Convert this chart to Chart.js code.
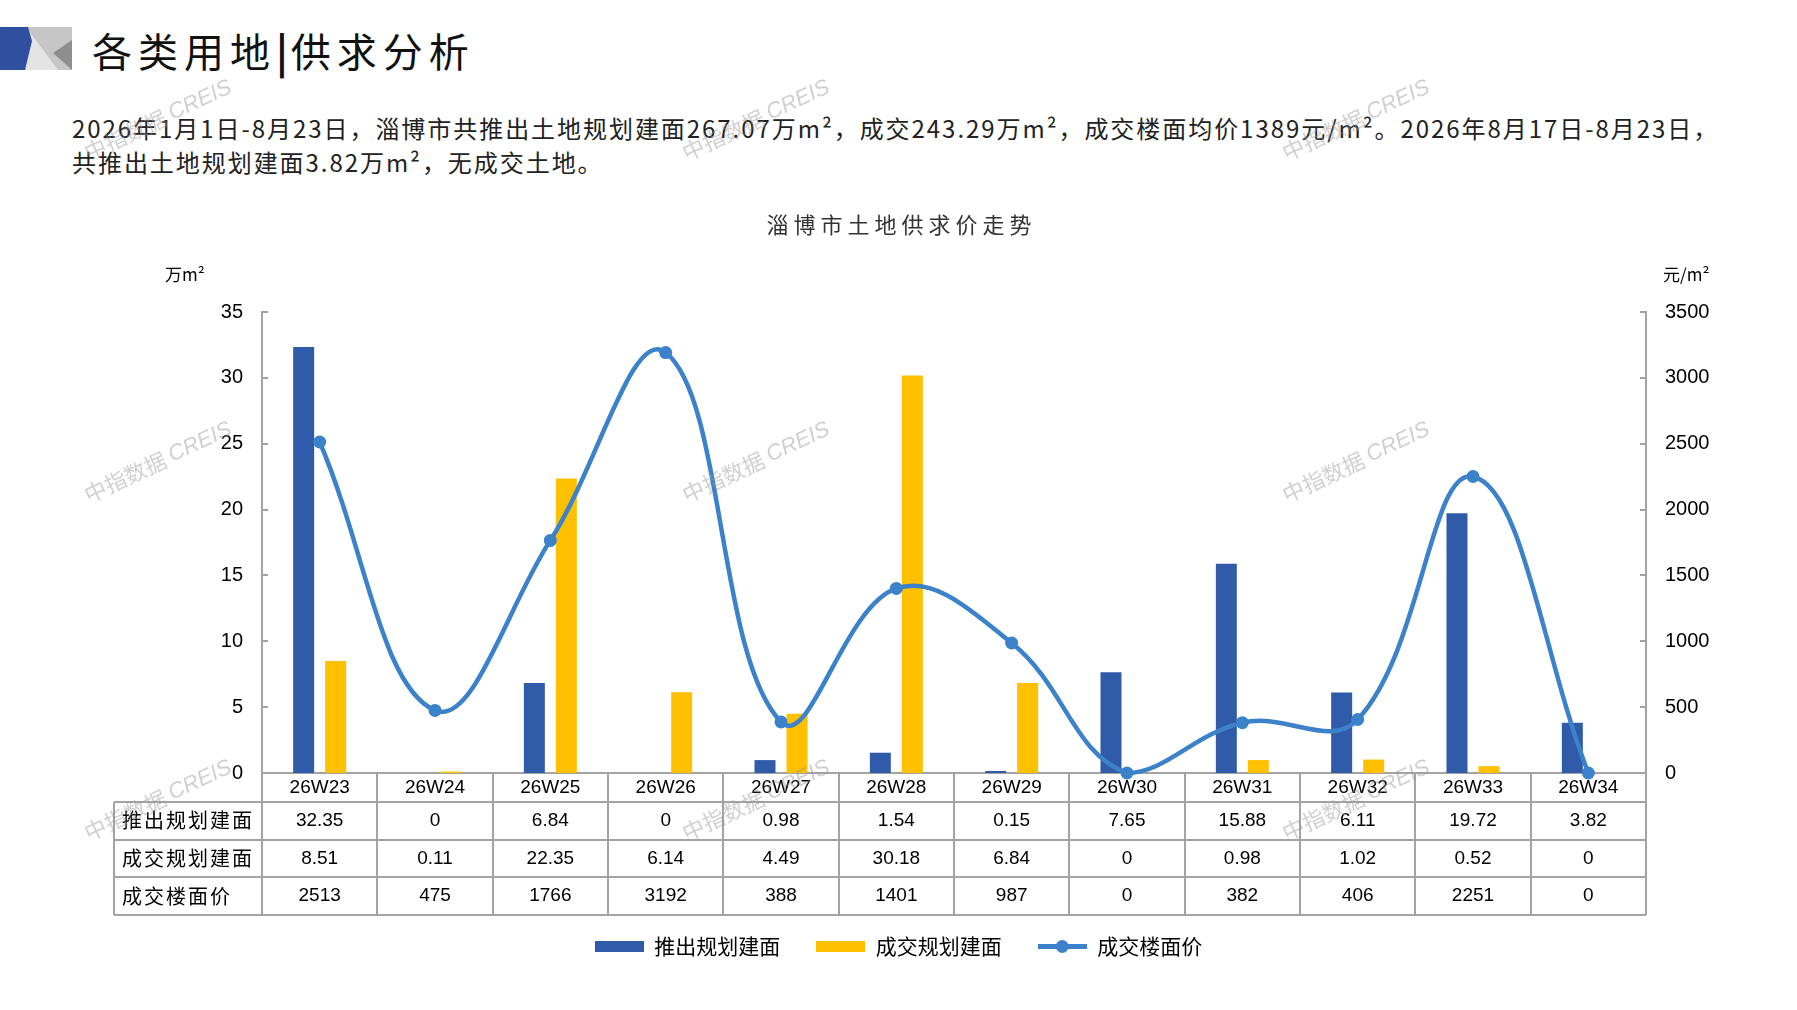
<!DOCTYPE html>
<html lang="zh-CN">
<head>
<meta charset="utf-8">
<title>各类用地|供求分析</title>
<script src="https://cdn.jsdelivr.net/npm/chart.js@4.4.1/dist/chart.umd.min.js"></script>
<style>
html, body { margin: 0; padding: 0; background: #fff; }
#page { position: relative; width: 1797px; height: 1010px; overflow: hidden; font-family: "Noto Sans CJK SC", sans-serif; }
#logo { position: absolute; left: 0; top: 27px; }
#title { position: absolute; left: 92px; top: 27px; font-size: 40px; line-height: 46px; letter-spacing: 6px; color: #111; white-space: nowrap; }
#title .sep { font-weight: bold; letter-spacing: 3px; }
#desc { position: absolute; left: 72px; top: 111px; font-size: 24px; line-height: 34px; letter-spacing: 1.95px; color: #222; white-space: nowrap; }
#chart { position: absolute; left: 0; top: 0; }
</style>
</head>
<body>
<div id="page">
  <svg id="logo" width="72" height="43">
    <rect x="24" y="0" width="48" height="43" fill="#c6c6c6"/>
    <polygon points="26,0 58,43 26,43" fill="#e4e4e4"/>
    <polygon points="53,26 72,13 72,43" fill="#8e8e8e"/>
    <polygon points="0,0 28,0 32,14 25,43 0,43" fill="#2f4f9f"/>
  </svg>
  <div id="title">各类用地<span class="sep">|</span>供求分析</div>
  <div id="desc">2026年1月1日-8月23日，淄博市共推出土地规划建面267.07万m²，成交243.29万m²，成交楼面均价1389元/m²。2026年8月17日-8月23日，<br>共推出土地规划建面3.82万m²，无成交土地。</div>
  <canvas id="chart" width="1797" height="1010"></canvas>
</div>
<script>
// 数据
var weeks = ['26W23', '26W24', '26W25', '26W26', '26W27', '26W28', '26W29', '26W30', '26W31', '26W32', '26W33', '26W34'];
var pushedArea = [32.35, 0, 6.84, 0, 0.98, 1.54, 0.15, 7.65, 15.88, 6.11, 19.72, 3.82];
var dealArea = [8.51, 0.11, 22.35, 6.14, 4.49, 30.18, 6.84, 0, 0.98, 1.02, 0.52, 0];
var dealPrice = [2513, 475, 1766, 3192, 388, 1401, 987, 0, 382, 406, 2251, 0];
var seriesNames = ['推出规划建面', '成交规划建面', '成交楼面价'];
var areaTicks = [0, 5, 10, 15, 20, 25, 30, 35];
var priceTicks = [0, 500, 1000, 1500, 2000, 2500, 3000, 3500];
var chartTitle = '淄博市土地供求价走势';

var BLUE = '#2f5ba9', YELLOW = '#ffc000', LINE = '#3b82cb', GRID = '#a3a3a3';
var CJK = '"Noto Sans CJK SC"', NUM = '"Liberation Sans", Arial, sans-serif';

// 图例色块
function swatch(color, isLine) {
    var c = document.createElement('canvas');
    c.width = 49; c.height = 15;
    var g = c.getContext('2d');
    g.fillStyle = color;
    if (isLine) {
        g.strokeStyle = color;
        g.lineWidth = 5;
        g.beginPath(); g.moveTo(0, 7.5); g.lineTo(49, 7.5); g.stroke();
        g.beginPath(); g.arc(24.5, 7.5, 6.5, 0, Math.PI * 2); g.fill();
    } else {
        g.fillRect(0, 2, 49, 11);
    }
    return c;
}
var swatches = [swatch(BLUE), swatch(YELLOW), swatch(LINE, true)];

function spaced(ctx, px) {
    if ('letterSpacing' in ctx) ctx.letterSpacing = px + 'px';
}

// 标题、坐标轴内侧刻度、单位、数据表、水印
var extrasPlugin = {
    id: 'extras',
    afterDraw: function(chart) {
        var ctx = chart.ctx, area = chart.chartArea;
        var xs = chart.scales.x, yl = chart.scales.y, yr = chart.scales.y1;
        ctx.save();

        ctx.fillStyle = '#333';
        ctx.textBaseline = 'middle';
        ctx.textAlign = 'center';
        ctx.font = '22px ' + CJK;
        spaced(ctx, 5);
        ctx.fillText(chartTitle, chart.width / 2 + 3, 225);
        spaced(ctx, 0);

        ctx.strokeStyle = GRID;
        ctx.lineWidth = 2;
        areaTicks.forEach(function(v) {
            var py = Math.round(yl.getPixelForValue(v));
            ctx.beginPath(); ctx.moveTo(area.left, py); ctx.lineTo(area.left + 6, py); ctx.stroke();
        });
        priceTicks.forEach(function(v) {
            var py = Math.round(yr.getPixelForValue(v));
            ctx.beginPath(); ctx.moveTo(area.right - 6, py); ctx.lineTo(area.right, py); ctx.stroke();
        });

        ctx.fillStyle = '#000';
        ctx.textAlign = 'left';
        ctx.font = '17px ' + CJK;
        ctx.fillText('万m²', 165, 275);
        ctx.fillText('元/m²', 1663, 275);

        // 数据表
        var headH = 29, rowH = 37.7;
        var tableLeft = 114, top = area.bottom, colW = (area.right - area.left) / weeks.length;
        var bottom = top + headH + rowH * 3;
        ctx.strokeStyle = GRID;
        ctx.lineWidth = 2;
        for (var r = 0; r <= 3; r++) {
            var ly = Math.round(top + headH + rowH * r);
            ctx.beginPath(); ctx.moveTo(tableLeft, ly); ctx.lineTo(area.right, ly); ctx.stroke();
        }
        for (var c = 0; c <= weeks.length; c++) {
            var lx = Math.round(area.left + colW * c);
            ctx.beginPath(); ctx.moveTo(lx, top); ctx.lineTo(lx, bottom); ctx.stroke();
        }
        ctx.beginPath(); ctx.moveTo(tableLeft, top + headH); ctx.lineTo(tableLeft, bottom); ctx.stroke();

        var rows = [pushedArea, dealArea, dealPrice];
        rows.forEach(function(vals, r) {
            var cy = top + headH + rowH * r + rowH / 2;
            ctx.textAlign = 'left';
            ctx.font = '20px ' + CJK;
            spaced(ctx, 2);
            ctx.fillText(seriesNames[r], tableLeft + 8, cy);
            spaced(ctx, 0);
            ctx.textAlign = 'center';
            ctx.font = '19px ' + NUM;
            vals.forEach(function(v, i) {
                ctx.fillText(String(v), xs.getPixelForValue(i), cy);
            });
        });

        // 水印
        var marks = [[158, 120], [756, 120], [1356, 120], [158, 462], [756, 462], [1356, 462], [158, 800], [756, 800], [1356, 800]];
        ctx.fillStyle = 'rgba(150,150,150,0.45)';
        marks.forEach(function(m) {
            ctx.save();
            ctx.translate(m[0], m[1]);
            ctx.rotate(-25 * Math.PI / 180);
            ctx.textAlign = 'left';
            ctx.font = '22px ' + CJK;
            var w1 = ctx.measureText('中指数据 ').width;
            ctx.font = 'italic 22px ' + NUM;
            var w2 = ctx.measureText('CREIS').width;
            var sx = -(w1 + w2) / 2;
            ctx.font = '22px ' + CJK;
            ctx.fillText('中指数据 ', sx, 0);
            ctx.font = 'italic 22px ' + NUM;
            ctx.fillText('CREIS', sx + w1, 0);
            ctx.restore();
        });

        ctx.restore();
    }
};

function plainTick(v) { return String(v); }

new Chart(document.getElementById('chart'), {
    type: 'bar',
    data: {
        labels: weeks,
        datasets: [
            { label: seriesNames[0], data: pushedArea, backgroundColor: BLUE, yAxisID: 'y', order: 1,
              barPercentage: 0.656, categoryPercentage: 0.555 },
            { label: seriesNames[1], data: dealArea, backgroundColor: YELLOW, yAxisID: 'y', order: 1,
              barPercentage: 0.656, categoryPercentage: 0.555 },
            { type: 'line', label: seriesNames[2], data: dealPrice, yAxisID: 'y1', order: 0,
              borderColor: LINE, backgroundColor: LINE, borderWidth: 4.5, tension: 0.4,
              pointRadius: 6.5, pointBorderWidth: 0, pointBackgroundColor: LINE, clip: false }
        ]
    },
    options: {
        responsive: false,
        animation: false,
        events: [],
        layout: { padding: { top: 312, bottom: 43, left: 0, right: 0 } },
        plugins: {
            title: { display: false },
            legend: {
                position: 'bottom',
                labels: {
                    usePointStyle: true,
                    pointStyleWidth: 49,
                    boxHeight: 11,
                    padding: 36,
                    color: '#000',
                    font: { family: CJK, size: 21 },
                    generateLabels: function(chart) {
                        return chart.data.datasets.map(function(ds, i) {
                            return { text: ds.label, pointStyle: swatches[i], fillStyle: 'transparent',
                                     strokeStyle: 'transparent', lineWidth: 0, hidden: false, datasetIndex: i, fontColor: '#000' };
                        });
                    }
                }
            },
            tooltip: { enabled: false }
        },
        scales: {
            x: {
                grid: { display: false, drawTicks: false },
                border: { color: GRID, width: 2 },
                ticks: { color: '#000', font: { family: NUM, size: 19 }, padding: 3, maxRotation: 0, autoSkip: false },
                afterFit: function(s) { s.height = 127; }
            },
            y: {
                position: 'left', min: 0, max: 35,
                grid: { display: false, drawTicks: false },
                border: { color: GRID, width: 2 },
                ticks: { color: '#000', font: { family: NUM, size: 20 }, padding: 19, callback: plainTick },
                afterBuildTicks: function(s) { s.ticks = areaTicks.map(function(v) { return { value: v }; }); },
                afterFit: function(s) { s.width = 262; }
            },
            y1: {
                position: 'right', min: 0, max: 3500,
                grid: { display: false, drawTicks: false },
                border: { color: GRID, width: 2 },
                ticks: { color: '#000', font: { family: NUM, size: 20 }, padding: 19, callback: plainTick },
                afterBuildTicks: function(s) { s.ticks = priceTicks.map(function(v) { return { value: v }; }); },
                afterFit: function(s) { s.width = 151; }
            }
        }
    },
    plugins: [extrasPlugin]
});
</script>
</body>
</html>
